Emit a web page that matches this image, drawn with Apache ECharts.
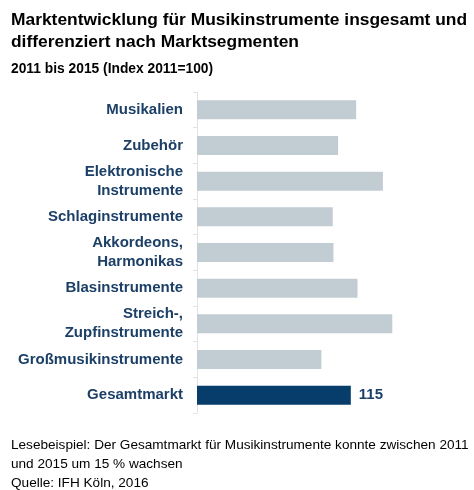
<!DOCTYPE html><html><head><meta charset="utf-8"><script src="https://cdn.jsdelivr.net/npm/echarts@6/dist/echarts.min.js"></script>
<style>body{margin:0}#c{width:474px;height:490px}</style></head><body><div id="c"></div><script>
const categories=['Musikalien','Zubehör','Elektronische\nInstrumente','Schlaginstrumente','Akkordeons,\nHarmonikas','Blasinstrumente','Streich-,\nZupfinstrumente','Großmusikinstrumente','Gesamtmarkt'];
const values=[119,105.5,139,101.5,102,120,146,93,115];
const chart=echarts.init(document.getElementById('c'));
const F='Liberation Sans, Arial, sans-serif';
chart.setOption({
 animation:false,
 title:[
  {text:'Marktentwicklung für Musikinstrumente insgesamt und\ndifferenziert nach Marktsegmenten',left:6,top:4,textStyle:{fontFamily:F,fontSize:17.4,fontWeight:'bold',color:'#000',lineHeight:22}},
  {text:'2011 bis 2015 (Index 2011=100)',left:6,top:57,textStyle:{fontFamily:F,fontSize:13.8,fontWeight:'bold',color:'#000'}},
  {text:'Lesebeispiel: Der Gesamtmarkt für Musikinstrumente konnte zwischen 2011\nund 2015 um 15 % wachsen\nQuelle: IFH Köln, 2016',left:6,top:431,textStyle:{fontFamily:F,fontSize:13.6,fontWeight:'normal',color:'#000',lineHeight:19}}
 ],
 grid:{left:197,right:63,top:92,bottom:77,containLabel:false},
 xAxis:{type:'value',min:0,max:160,show:false},
 yAxis:{type:'category',data:categories,inverse:true,
  axisLine:{show:true,lineStyle:{color:'#e3e3e3'}},axisTick:{show:true,length:4,lineStyle:{color:'#e3e3e3'}},
  axisLabel:{margin:14,fontFamily:F,fontSize:15,fontWeight:'bold',color:'#1b3f66',lineHeight:19,align:'right'}},
 series:[{type:'bar',barWidth:19,
  data:values.map((v,i)=>i===values.length-1?{value:v,itemStyle:{color:'#063d6b'},label:{show:true,position:'right',distance:8,fontFamily:F,fontSize:15,fontWeight:'bold',color:'#1b3f66',formatter:'{c}'}}:{value:v,itemStyle:{color:'#c2ccd3'}})}]
});
</script></body></html>
